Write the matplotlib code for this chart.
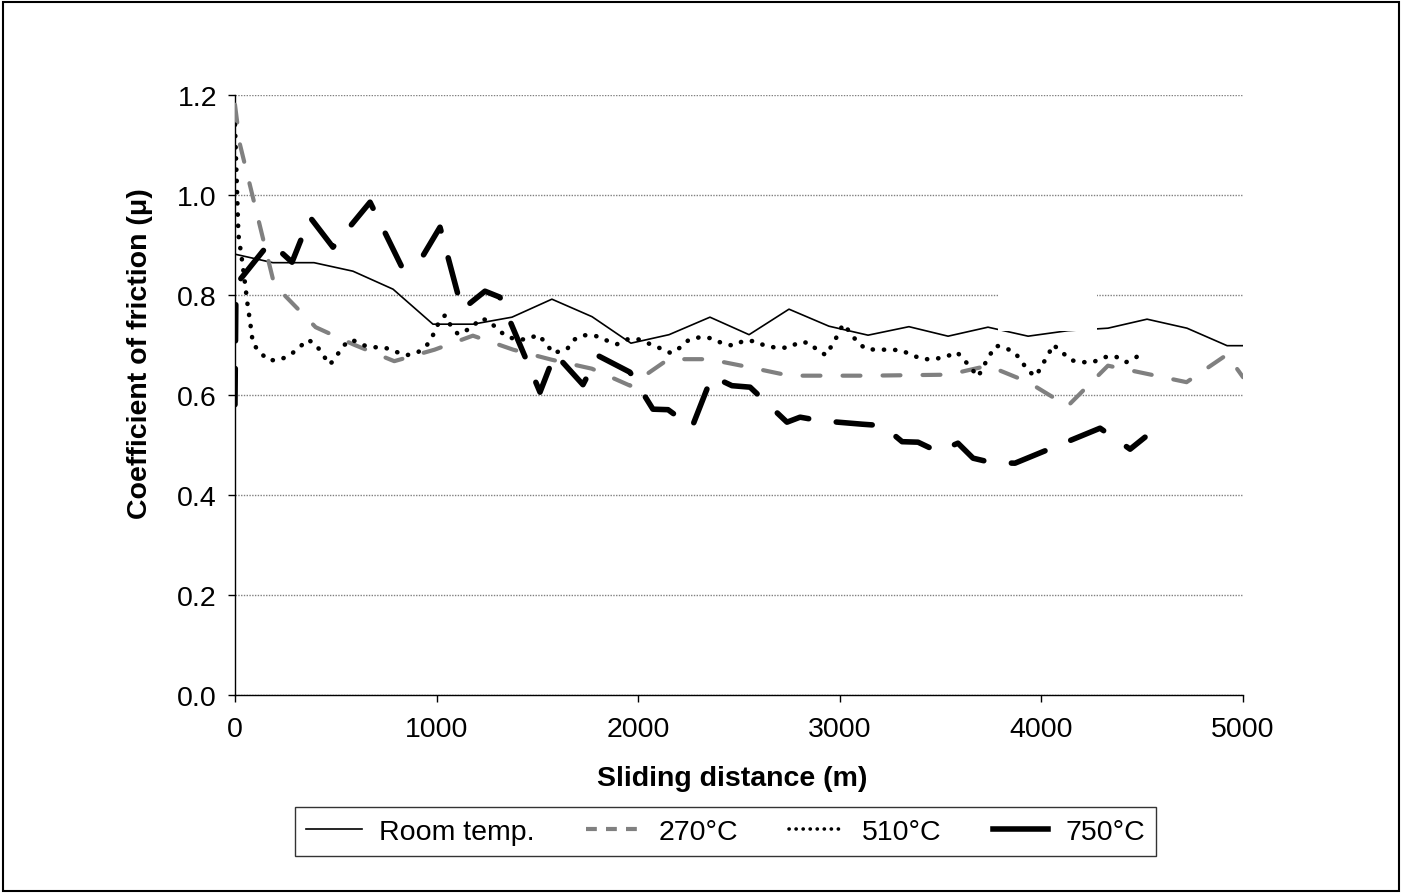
import matplotlib
matplotlib.use("Agg")
import matplotlib.pyplot as plt
from matplotlib.patches import Rectangle
from matplotlib.lines import Line2D

plt.rcParams['font.family'] = ['Liberation Sans', 'DejaVu Sans']

# Room temperature (thin solid)
rt_x = [0, 188, 392, 585, 784, 982, 1181, 1374, 1572, 1771, 1964, 2153, 2356, 2550,
        2748, 2946, 3140, 3343, 3537, 3735, 3934, 4132, 4330, 4524, 4722, 4921, 5000]
rt_y = [0.881, 0.864, 0.864, 0.847, 0.811, 0.741, 0.741, 0.755, 0.791, 0.756, 0.703,
        0.72, 0.755, 0.72, 0.771, 0.737, 0.719, 0.736, 0.717, 0.735, 0.717, 0.728,
        0.733, 0.751, 0.733, 0.698, 0.698]

# 270 C (grey dashed)
t270_x = [0, 25, 195, 400, 590, 790, 990, 1180, 1380, 1570, 1770, 1960, 2150, 2350,
          2550, 2750, 2950, 3140, 3340, 3540, 3735, 3935, 4130, 4330, 4520, 4720,
          4920, 5000]
t270_y = [1.18, 1.10, 0.82, 0.735, 0.70, 0.667, 0.69, 0.718, 0.69, 0.67, 0.652, 0.618,
          0.671, 0.671, 0.655, 0.638, 0.638, 0.638, 0.639, 0.64, 0.658, 0.625, 0.577,
          0.658, 0.642, 0.625, 0.68, 0.635]

# 510 C (dotted)
t510_x = [0, 10, 17, 35, 50, 64, 74, 89, 124, 164, 218, 273, 317, 362, 402, 437, 471,
          506, 541, 580, 635, 689, 744, 804, 853, 908, 952, 982, 1007, 1042, 1066,
          1106, 1176, 1215, 1255, 1300, 1344, 1399, 1453, 1503, 1543, 1577, 1647,
          1682, 1726, 1786, 1840, 1895, 1949, 1999, 2054, 2108, 2163, 2207, 2252,
          2307, 2361, 2416, 2470, 2525, 2579, 2634, 2688, 2748, 2798, 2847, 2892,
          2932, 2961, 2991, 3016, 3051, 3085, 3130, 3185, 3244, 3304, 3358, 3413,
          3467, 3527, 3581, 3616, 3686, 3740, 3775, 3819, 3869, 3904, 3938, 3973,
          4003, 4033, 4058, 4102, 4147, 4196, 4256, 4311, 4365, 4420, 4464, 4509]
t510_y = [1.14, 1.01, 0.92, 0.869, 0.822, 0.775, 0.749, 0.702, 0.685, 0.669, 0.669,
          0.679, 0.694, 0.71, 0.70, 0.679, 0.66, 0.679, 0.699, 0.71, 0.699, 0.695,
          0.694, 0.685, 0.679, 0.685, 0.699, 0.719, 0.741, 0.759, 0.741, 0.721, 0.734,
          0.752, 0.749, 0.732, 0.717, 0.71, 0.711, 0.72, 0.703, 0.683, 0.691, 0.71,
          0.719, 0.718, 0.709, 0.701, 0.711, 0.711, 0.702, 0.693, 0.683, 0.694, 0.71,
          0.715, 0.713, 0.703, 0.698, 0.708, 0.707, 0.697, 0.694, 0.694, 0.705, 0.704,
          0.688, 0.679, 0.699, 0.72, 0.741, 0.725, 0.706, 0.691, 0.69, 0.69, 0.689,
          0.679, 0.671, 0.671, 0.676, 0.685, 0.67, 0.636, 0.677, 0.698, 0.694, 0.684,
          0.665, 0.646, 0.637, 0.659, 0.679, 0.70, 0.685, 0.669, 0.665, 0.665, 0.675,
          0.677, 0.665, 0.673, 0.687]

# 750 C (thick black long dash)
t750_x = [0, 5, 174, 283, 372, 486, 670, 828, 918, 1017, 1126, 1240, 1314, 1513, 1587,
          1726, 1801, 1959, 2073, 2148, 2267, 2366, 2465, 2555, 2738, 2803, 2902,
          3110, 3214, 3309, 3388, 3487, 3586, 3661, 3755, 3869, 4291, 4440, 4514]
t750_y = [0.58, 0.82, 0.905, 0.865, 0.955, 0.895, 0.985, 0.855, 0.868, 0.935, 0.77,
          0.807, 0.795, 0.605, 0.682, 0.62, 0.678, 0.645, 0.571, 0.57, 0.535, 0.637,
          0.618, 0.615, 0.545, 0.555, 0.548, 0.541, 0.538, 0.506, 0.505, 0.486, 0.503,
          0.473, 0.464, 0.463, 0.533, 0.491, 0.515]

labels = ['Room temp.', '270°C', '510°C', '750°C']
x_ticks = [0, 1000, 2000, 3000, 4000, 5000]
y_ticks = [0.0, 0.2, 0.4, 0.6, 0.8, 1.0, 1.2]

FS = 20.5

fig = plt.figure(figsize=(14.02, 8.95), dpi=100)
ax = fig.add_axes([0.1676, 0.2227, 0.719, 0.6704])

# figure frame
fig.patches.append(Rectangle((0.002, 0.003), 0.996, 0.994, transform=fig.transFigure,
                             fill=False, edgecolor='black', linewidth=1.5))

ax.plot(rt_x, rt_y, color='black', lw=1.2, zorder=3)
ax.plot(t270_x, t270_y, color='#808080', lw=3, dashes=(4.3, 5.3),
        dash_capstyle='round', zorder=3)
ax.plot(t510_x, t510_y, color='black', lw=3.3, dashes=(0.05, 2.4),
        dash_capstyle='round', zorder=3)
ax.plot(t750_x, t750_y, color='black', lw=4, dashes=(6.5, 5.0),
        dash_capstyle='round', zorder=3)

# white patch hiding part of the plot area, as in the original
ax.add_patch(Rectangle((3785, 0.728), 491, 0.1, facecolor='white', edgecolor='none',
                       zorder=5))

ax.set_xlim(0, 5000)
ax.set_ylim(0, 1.2)
ax.set_xticks(x_ticks)
ax.set_yticks(y_ticks)
ax.set_yticklabels([f'{v:.1f}' for v in y_ticks])
ax.yaxis.grid(True, color='#808080', linestyle=(0, (1, 1)), lw=1)
ax.set_axisbelow(True)
for s in ['top', 'right']:
    ax.spines[s].set_visible(False)
for s in ['left', 'bottom']:
    ax.spines[s].set_color('black')
    ax.spines[s].set_linewidth(1)
ax.tick_params(axis='both', direction='out', length=5, width=1, labelsize=FS)
ax.tick_params(axis='x', pad=10)
ax.tick_params(axis='y', pad=8)

ax.set_xlabel('Sliding distance (m)', fontsize=FS, fontweight='bold')
ax.set_ylabel('Coefficient of friction (μ)', fontsize=FS, fontweight='bold')
ax.xaxis.set_label_coords(0.493, -0.118)
ax.yaxis.set_label_coords(-0.081, 0.57)

# legend proxies (short handles like the original)
handles = [
    Line2D([], [], color='black', lw=1.2),
    Line2D([], [], color='#808080', lw=3, dashes=(2.6, 2.2), dash_capstyle='butt'),
    Line2D([], [], color='black', lw=2.6, dashes=(0.05, 1.9), dash_capstyle='round'),
    Line2D([], [], color='black', lw=4),
]
leg = fig.legend(handles, labels, loc='center', bbox_to_anchor=(0.5175, 0.0698), ncol=4,
                 fontsize=FS, frameon=True, fancybox=False, edgecolor='black',
                 handlelength=1.95, columnspacing=1.8, handletextpad=0.6,
                 borderpad=0.4, borderaxespad=0)
leg.get_frame().set_linewidth(1)

fig.savefig('out.png', dpi=100)
